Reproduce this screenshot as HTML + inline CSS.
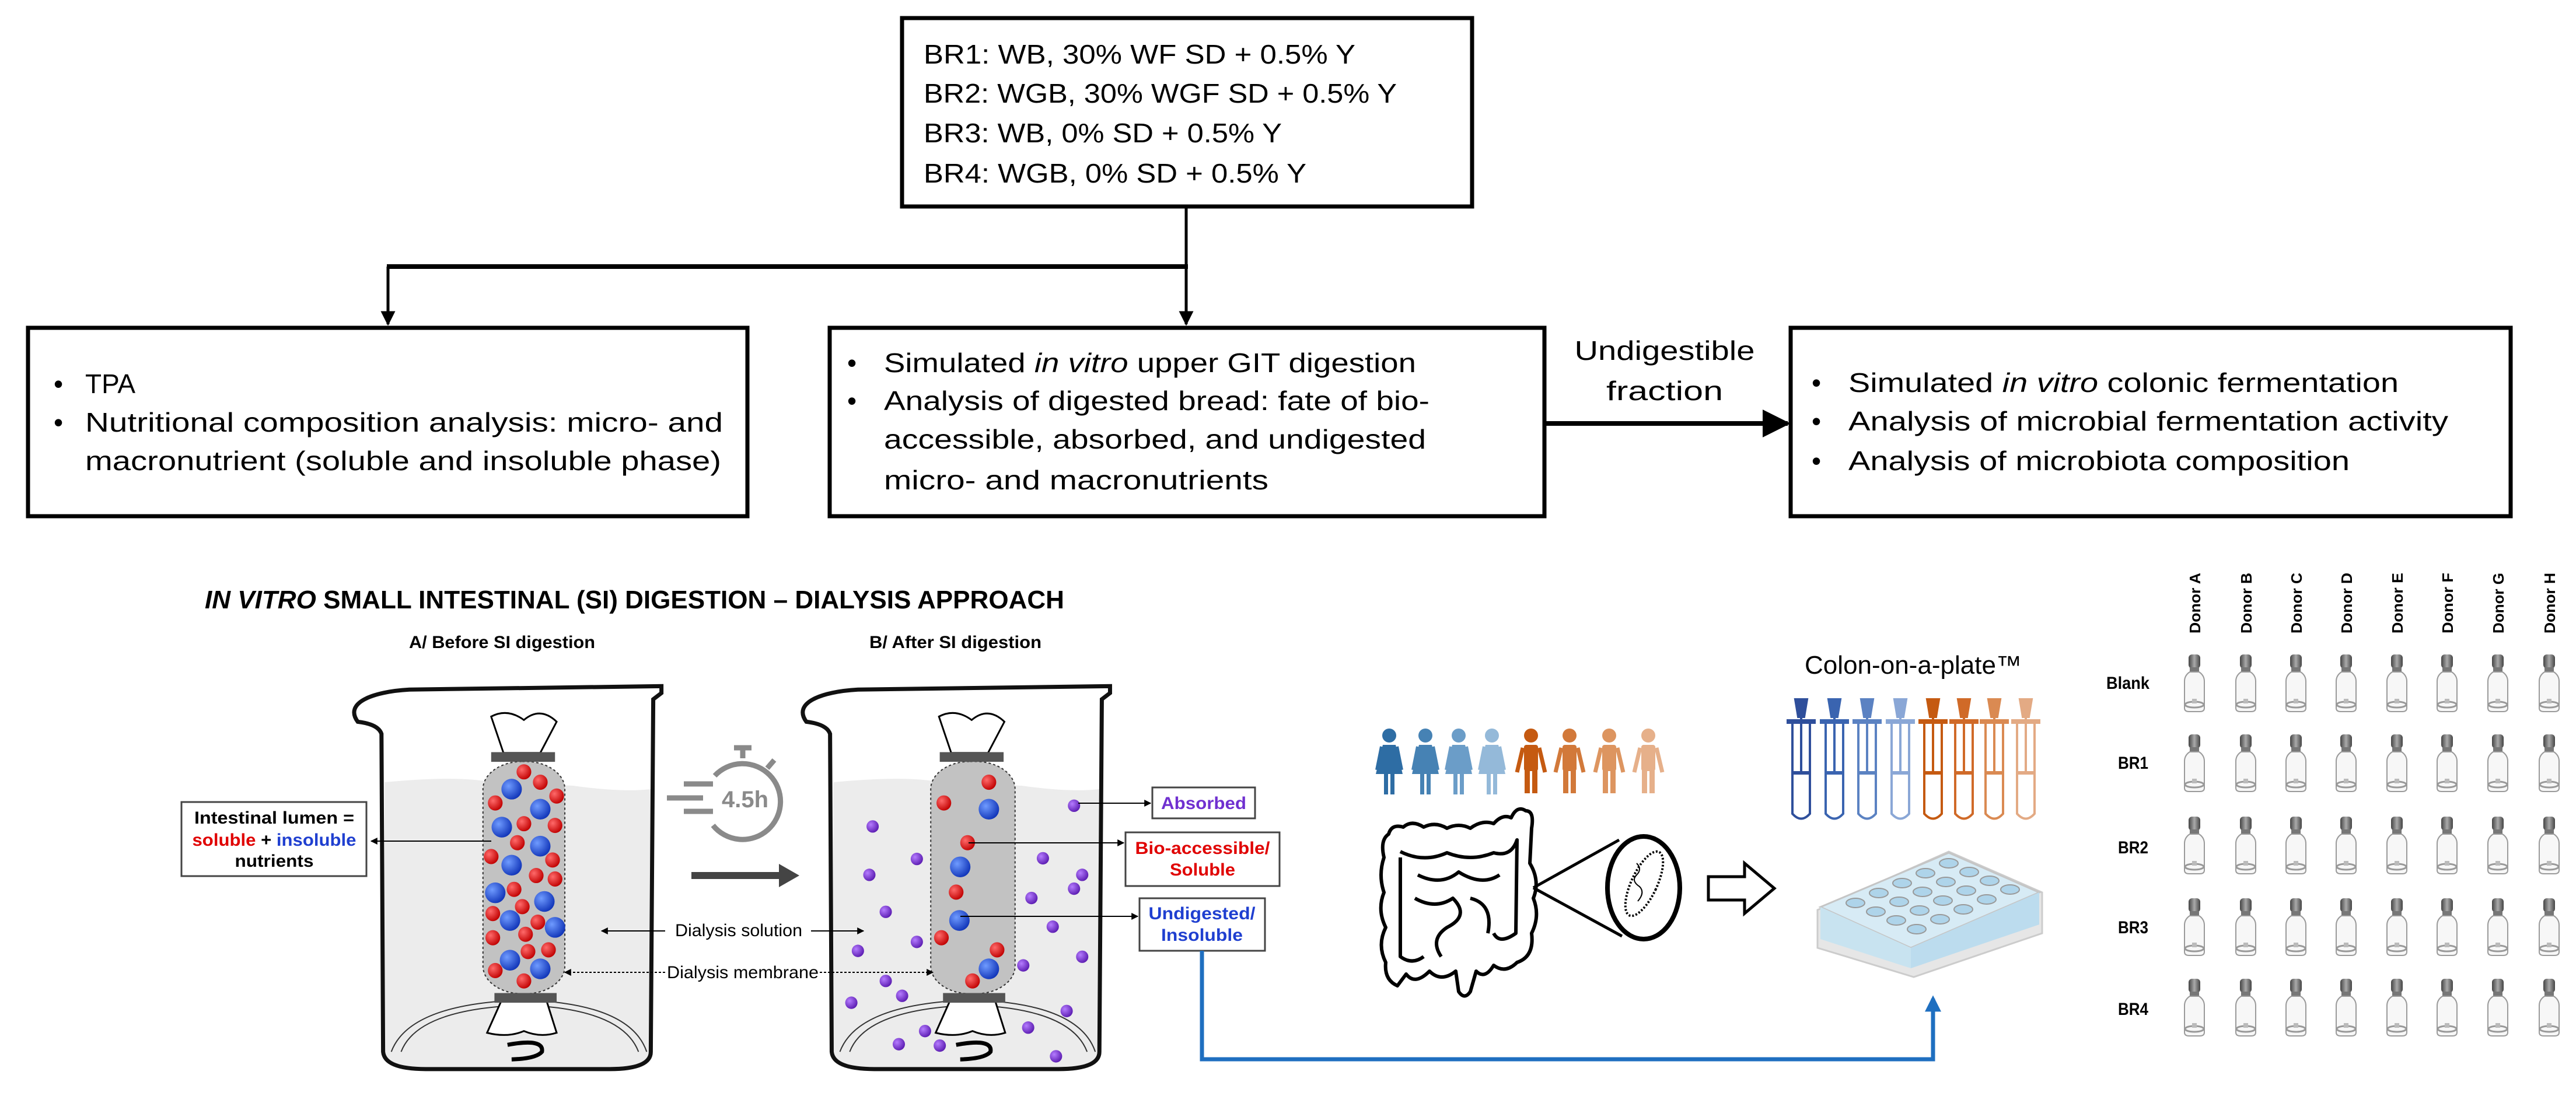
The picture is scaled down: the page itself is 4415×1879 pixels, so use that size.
<!DOCTYPE html>
<html><head><meta charset="utf-8"><style>
html,body{margin:0;padding:0;background:#fff;}
svg{display:block;}
text{font-family:"Liberation Sans",Arial,sans-serif;}
</style></head><body>
<svg width="4415" height="1879" viewBox="0 0 4415 1879" xmlns="http://www.w3.org/2000/svg">
<defs>
<marker id="ah" viewBox="0 0 10 10" refX="9" refY="5" markerWidth="5" markerHeight="5" orient="auto"><path d="M0,0 L10,5 L0,10 Z" fill="#000"/></marker>
<marker id="ahs" viewBox="0 0 10 10" refX="9" refY="5" markerWidth="6" markerHeight="6" orient="auto"><path d="M0,0 L10,5 L0,10 Z" fill="#000"/></marker>
<marker id="ahb" viewBox="0 0 10 10" refX="8" refY="5" markerWidth="4" markerHeight="4" orient="auto"><path d="M0,0 L10,5 L0,10 Z" fill="#1f6fc0"/></marker>
<radialGradient id="gr" cx="0.35" cy="0.35" r="0.7"><stop offset="0" stop-color="#ff6a6a"/><stop offset="1" stop-color="#c00000"/></radialGradient>
<radialGradient id="gb" cx="0.35" cy="0.35" r="0.7"><stop offset="0" stop-color="#6f9bff"/><stop offset="1" stop-color="#1034b8"/></radialGradient>
<radialGradient id="gp" cx="0.35" cy="0.35" r="0.7"><stop offset="0" stop-color="#b57cff"/><stop offset="1" stop-color="#5a1bb0"/></radialGradient>
<linearGradient id="cap" x1="0" x2="1"><stop offset="0" stop-color="#444"/><stop offset="0.5" stop-color="#aaa"/><stop offset="1" stop-color="#444"/></linearGradient>
<g id="vial">
<rect x="11" y="0" width="20" height="24" rx="6" fill="url(#cap)"/>
<rect x="13" y="22" width="16" height="8" fill="#777"/>
<path d="M13,30 Q4,36 4,46 L4,92 Q4,98 12,98 L30,98 Q38,98 38,92 L38,46 Q38,36 29,30 Z" fill="#f7f7f7" stroke="#9a9a9a" stroke-width="2"/>
<ellipse cx="21" cy="86" rx="16" ry="5" fill="none" stroke="#999" stroke-width="3"/>
<rect x="17" y="76" width="8" height="8" fill="#bbb"/>
</g>
</defs>

<!-- TOP FLOW -->
<g fill="none" stroke="#000">
<rect x="1546" y="31" width="977" height="323" stroke-width="7" fill="#fff"/>
<rect x="48" y="562" width="1233" height="323" stroke-width="7" fill="#fff"/>
<rect x="1422" y="562" width="1225" height="323" stroke-width="7" fill="#fff"/>
<rect x="3069" y="562" width="1234" height="323" stroke-width="7" fill="#fff"/>
<line x1="2033" y1="354" x2="2033" y2="459" stroke-width="5"/>
<line x1="663" y1="457" x2="2036" y2="457" stroke-width="8"/>
<line x1="665" y1="457" x2="665" y2="556" stroke-width="5" marker-end="url(#ah)"/>
<line x1="2033" y1="457" x2="2033" y2="556" stroke-width="5" marker-end="url(#ah)"/>
<line x1="2647" y1="726" x2="3064" y2="726" stroke-width="8" marker-end="url(#ahs)"/>
</g>
<g font-size="46" fill="#000">
<text x="1583" y="109" textLength="740" lengthAdjust="spacingAndGlyphs">BR1: WB, 30% WF SD + 0.5% Y</text>
<text x="1583" y="176" textLength="811" lengthAdjust="spacingAndGlyphs">BR2: WGB, 30% WGF SD + 0.5% Y</text>
<text x="1583" y="244" textLength="614" lengthAdjust="spacingAndGlyphs">BR3: WB, 0% SD + 0.5% Y</text>
<text x="1583" y="313" textLength="656" lengthAdjust="spacingAndGlyphs">BR4: WGB, 0% SD + 0.5% Y</text>

<text x="92" y="674">•</text><text x="146" y="674">TPA</text>
<text x="92" y="740">•</text><text x="146" y="740" textLength="1093" lengthAdjust="spacingAndGlyphs">Nutritional composition analysis: micro- and</text>
<text x="146" y="806" textLength="1090" lengthAdjust="spacingAndGlyphs">macronutrient (soluble and insoluble phase)</text>

<text x="1452" y="638">•</text><text x="1515" y="638" textLength="912" lengthAdjust="spacingAndGlyphs">Simulated <tspan font-style="italic">in vitro</tspan> upper GIT digestion</text>
<text x="1452" y="703">•</text><text x="1515" y="703" textLength="935" lengthAdjust="spacingAndGlyphs">Analysis of digested bread: fate of bio-</text>
<text x="1515" y="769" textLength="929" lengthAdjust="spacingAndGlyphs">accessible, absorbed, and undigested</text>
<text x="1515" y="839" textLength="659" lengthAdjust="spacingAndGlyphs">micro- and macronutrients</text>

<text x="3105" y="672">•</text><text x="3168" y="672" textLength="943" lengthAdjust="spacingAndGlyphs">Simulated <tspan font-style="italic">in vitro</tspan> colonic fermentation</text>
<text x="3105" y="738">•</text><text x="3168" y="738" textLength="1028" lengthAdjust="spacingAndGlyphs">Analysis of microbial fermentation activity</text>
<text x="3105" y="806">•</text><text x="3168" y="806" textLength="859" lengthAdjust="spacingAndGlyphs">Analysis of microbiota composition</text>

<text x="2853" y="617" text-anchor="middle" textLength="309" lengthAdjust="spacingAndGlyphs">Undigestible</text>
<text x="2853" y="686" text-anchor="middle" textLength="200" lengthAdjust="spacingAndGlyphs">fraction</text>
</g>

<!-- BOTTOM LEFT TEXT -->
<text x="351" y="1043" font-size="44" font-weight="bold" textLength="1473" lengthAdjust="spacingAndGlyphs"><tspan font-style="italic">IN VITRO</tspan> SMALL INTESTINAL (SI) DIGESTION – DIALYSIS APPROACH</text>
<text x="701" y="1111" font-size="30" font-weight="bold" textLength="319" lengthAdjust="spacingAndGlyphs">A/ Before SI digestion</text>
<text x="1490" y="1111" font-size="30" font-weight="bold" textLength="295" lengthAdjust="spacingAndGlyphs">B/ After SI digestion</text>

<!-- Beakers drawn in zoom coords -->
<g transform="translate(0,950) scale(1.403,0.5925)">
<g id="beaker">
<path d="M470,660 Q560,640 600,660 L700,670 Q760,690 795,680 L795,1440 Q795,1488 745,1488 L520,1488 Q470,1488 468,1440 Z" fill="#ececec"/>
<path d="M437,485 C420,430 455,398 500,392 L808,382 L808,402 L798,420 L795,1440 Q795,1490 745,1490 L520,1490 Q470,1490 468,1440 L466,520 Q462,492 437,485 Z" fill="none" stroke="#111" stroke-width="7" vector-effect="non-scaling-stroke"/>
<path d="M478,1440 Q500,1300 640,1290 Q770,1300 790,1440" fill="none" stroke="#333" stroke-width="2" vector-effect="non-scaling-stroke"/>
<path d="M490,1440 Q510,1315 640,1305 Q760,1315 780,1440" fill="none" stroke="#333" stroke-width="2" vector-effect="non-scaling-stroke"/>
</g>
<use href="#beaker" transform="translate(548,0)"/>

<!-- bag A -->
<rect x="590" y="600" width="100" height="672" rx="48" ry="80" fill="#c2c2c2" stroke="#333" stroke-width="2" stroke-dasharray="4 4" vector-effect="non-scaling-stroke"/>
<path d="M615,575 L600,470 Q620,445 640,480 Q660,440 680,485 L660,575 Z" fill="#fff" stroke="#000" stroke-width="3" vector-effect="non-scaling-stroke"/>
<path d="M612,1295 L595,1385 Q620,1400 640,1380 Q660,1400 680,1385 L668,1295 Z" fill="#fff" stroke="#000" stroke-width="3" vector-effect="non-scaling-stroke"/>
<rect x="600" y="573" width="78" height="28" fill="#555"/>
<rect x="604" y="1270" width="76" height="28" fill="#555"/>
<path d="M620,1420 Q665,1400 662,1440 Q655,1460 625,1462" fill="none" stroke="#000" stroke-width="7" vector-effect="non-scaling-stroke"/>
<!-- bag B -->
<rect x="1137" y="600" width="103" height="672" rx="48" ry="80" fill="#c2c2c2" stroke="#333" stroke-width="2" stroke-dasharray="4 4" vector-effect="non-scaling-stroke"/>
<path d="M1162,575 L1147,470 Q1167,445 1187,480 Q1207,440 1227,485 L1207,575 Z" fill="#fff" stroke="#000" stroke-width="3" vector-effect="non-scaling-stroke"/>
<path d="M1160,1295 L1143,1385 Q1168,1400 1188,1380 Q1208,1400 1228,1385 L1216,1295 Z" fill="#fff" stroke="#000" stroke-width="3" vector-effect="non-scaling-stroke"/>
<rect x="1148" y="573" width="78" height="28" fill="#555"/>
<rect x="1152" y="1270" width="76" height="28" fill="#555"/>
<path d="M1168,1420 Q1213,1400 1210,1440 Q1203,1460 1173,1462" fill="none" stroke="#000" stroke-width="7" vector-effect="non-scaling-stroke"/>

<!-- red balls -->
<g fill="url(#gr)">
<ellipse cx="640" cy="630" rx="9" ry="22"/><ellipse cx="660" cy="660" rx="9" ry="22"/><ellipse cx="680" cy="700" rx="9" ry="22"/><ellipse cx="605" cy="720" rx="9" ry="22"/><ellipse cx="640" cy="780" rx="9" ry="22"/><ellipse cx="678" cy="785" rx="9" ry="22"/><ellipse cx="632" cy="835" rx="9" ry="22"/><ellipse cx="600" cy="875" rx="9" ry="22"/><ellipse cx="675" cy="885" rx="9" ry="22"/><ellipse cx="655" cy="930" rx="9" ry="22"/><ellipse cx="678" cy="940" rx="9" ry="22"/><ellipse cx="628" cy="970" rx="9" ry="22"/><ellipse cx="602" cy="1040" rx="9" ry="22"/><ellipse cx="638" cy="1020" rx="9" ry="22"/><ellipse cx="657" cy="1065" rx="9" ry="22"/><ellipse cx="602" cy="1110" rx="9" ry="22"/><ellipse cx="642" cy="1100" rx="9" ry="22"/><ellipse cx="670" cy="1145" rx="9" ry="22"/><ellipse cx="645" cy="1150" rx="9" ry="22"/><ellipse cx="605" cy="1205" rx="9" ry="22"/><ellipse cx="640" cy="1235" rx="9" ry="22"/>
<ellipse cx="1208" cy="660" rx="9" ry="22"/><ellipse cx="1153" cy="720" rx="9" ry="22"/><ellipse cx="1182" cy="835" rx="9" ry="22"/><ellipse cx="1168" cy="978" rx="9" ry="22"/><ellipse cx="1150" cy="1110" rx="9" ry="22"/><ellipse cx="1218" cy="1145" rx="9" ry="22"/><ellipse cx="1188" cy="1235" rx="9" ry="22"/>
</g>
<g fill="url(#gb)">
<ellipse cx="625" cy="680" rx="12.5" ry="30"/><ellipse cx="660" cy="738" rx="12.5" ry="30"/><ellipse cx="613" cy="790" rx="12.5" ry="30"/><ellipse cx="660" cy="845" rx="12.5" ry="30"/><ellipse cx="625" cy="900" rx="12.5" ry="30"/><ellipse cx="605" cy="980" rx="12.5" ry="30"/><ellipse cx="665" cy="1005" rx="12.5" ry="30"/><ellipse cx="623" cy="1060" rx="12.5" ry="30"/><ellipse cx="678" cy="1080" rx="12.5" ry="30"/><ellipse cx="623" cy="1175" rx="12.5" ry="30"/><ellipse cx="660" cy="1200" rx="12.5" ry="30"/>
<ellipse cx="1208" cy="738" rx="12.5" ry="30"/><ellipse cx="1173" cy="905" rx="12.5" ry="30"/><ellipse cx="1172" cy="1060" rx="12.5" ry="30"/><ellipse cx="1208" cy="1200" rx="12.5" ry="30"/>
</g>
<g fill="url(#gp)">
<ellipse cx="1312" cy="728" rx="7.5" ry="18"/><ellipse cx="1066" cy="788" rx="7.5" ry="18"/><ellipse cx="1120" cy="882" rx="7.5" ry="18"/><ellipse cx="1062" cy="928" rx="7.5" ry="18"/><ellipse cx="1274" cy="880" rx="7.5" ry="18"/><ellipse cx="1322" cy="928" rx="7.5" ry="18"/><ellipse cx="1260" cy="995" rx="7.5" ry="18"/><ellipse cx="1312" cy="968" rx="7.5" ry="18"/><ellipse cx="1082" cy="1035" rx="7.5" ry="18"/><ellipse cx="1286" cy="1078" rx="7.5" ry="18"/><ellipse cx="1120" cy="1122" rx="7.5" ry="18"/><ellipse cx="1048" cy="1148" rx="7.5" ry="18"/><ellipse cx="1322" cy="1165" rx="7.5" ry="18"/><ellipse cx="1250" cy="1190" rx="7.5" ry="18"/><ellipse cx="1082" cy="1235" rx="7.5" ry="18"/><ellipse cx="1102" cy="1278" rx="7.5" ry="18"/><ellipse cx="1040" cy="1298" rx="7.5" ry="18"/><ellipse cx="1303" cy="1322" rx="7.5" ry="18"/><ellipse cx="1256" cy="1370" rx="7.5" ry="18"/><ellipse cx="1130" cy="1380" rx="7.5" ry="18"/><ellipse cx="1098" cy="1418" rx="7.5" ry="18"/><ellipse cx="1148" cy="1422" rx="7.5" ry="18"/><ellipse cx="1290" cy="1453" rx="7.5" ry="18"/>
</g>
</g>

<!-- stopwatch -->
<g stroke="#8a8a8a" fill="none" stroke-width="9">
<path d="M1225,1330 A65,65 0 1 1 1222,1415"/>
<line x1="1273" y1="1300" x2="1273" y2="1282"/><line x1="1258" y1="1282" x2="1288" y2="1282"/>
<line x1="1315" y1="1317" x2="1327" y2="1303"/>
<line x1="1172" y1="1344" x2="1222" y2="1344"/><line x1="1143" y1="1368" x2="1205" y2="1368"/><line x1="1172" y1="1391" x2="1222" y2="1391"/>
</g>
<text x="1277" y="1384" font-size="40" font-weight="bold" fill="#8a8a8a" text-anchor="middle">4.5h</text>
<line x1="1185" y1="1501" x2="1340" y2="1501" stroke="#444" stroke-width="12"/>
<path d="M1335,1481 L1370,1501 L1335,1521 Z" fill="#444"/>

<!-- lumen box -->
<rect x="311" y="1375" width="317" height="127" fill="#fff" stroke="#444" stroke-width="3"/>
<g font-size="30" font-weight="bold" text-anchor="middle">
<text x="470" y="1412" textLength="274" lengthAdjust="spacingAndGlyphs">Intestinal lumen =</text>
<text x="470" y="1450" textLength="281" lengthAdjust="spacingAndGlyphs"><tspan fill="#e00000">soluble</tspan> + <tspan fill="#1f3fd0">insoluble</tspan></text>
<text x="470" y="1486" textLength="135" lengthAdjust="spacingAndGlyphs">nutrients</text>
</g>
<line x1="842" y1="1442" x2="636" y2="1442" stroke="#000" stroke-width="2" marker-end="url(#ahs)"/>

<!-- dialysis labels -->
<text x="1157" y="1605" font-size="30" textLength="218" lengthAdjust="spacingAndGlyphs">Dialysis solution</text>
<line x1="1140" y1="1596" x2="1031" y2="1596" stroke="#000" stroke-width="2" marker-end="url(#ahs)"/>
<line x1="1390" y1="1596" x2="1480" y2="1596" stroke="#000" stroke-width="2" marker-end="url(#ahs)"/>
<text x="1143" y="1677" font-size="30" textLength="260" lengthAdjust="spacingAndGlyphs">Dialysis membrane</text>
<line x1="1140" y1="1667" x2="968" y2="1667" stroke="#000" stroke-width="2" stroke-dasharray="4 3" marker-end="url(#ahs)"/>
<line x1="1405" y1="1667" x2="1599" y2="1667" stroke="#000" stroke-width="2" stroke-dasharray="4 3" marker-end="url(#ahs)"/>

<!-- result boxes -->
<line x1="1848" y1="1377" x2="1972" y2="1377" stroke="#000" stroke-width="2" marker-end="url(#ahs)"/>
<line x1="1660" y1="1445" x2="1926" y2="1445" stroke="#000" stroke-width="2" marker-end="url(#ahs)"/>
<line x1="1646" y1="1571" x2="1950" y2="1571" stroke="#000" stroke-width="2" marker-end="url(#ahs)"/>
<rect x="1975" y="1350" width="176" height="53" fill="#fff" stroke="#444" stroke-width="3"/>
<rect x="1929" y="1427" width="264" height="92" fill="#fff" stroke="#444" stroke-width="3"/>
<rect x="1953" y="1540" width="215" height="90" fill="#fff" stroke="#444" stroke-width="3"/>
<g font-size="30" font-weight="bold" text-anchor="middle">
<text x="2063" y="1387" fill="#7030d0" textLength="146" lengthAdjust="spacingAndGlyphs">Absorbed</text>
<text x="2061" y="1464" fill="#e00000" textLength="231" lengthAdjust="spacingAndGlyphs">Bio-accessible/</text>
<text x="2061" y="1501" fill="#e00000" textLength="112" lengthAdjust="spacingAndGlyphs">Soluble</text>
<text x="2060" y="1576" fill="#1f3fd0" textLength="183" lengthAdjust="spacingAndGlyphs">Undigested/</text>
<text x="2060" y="1613" fill="#1f3fd0" textLength="140" lengthAdjust="spacingAndGlyphs">Insoluble</text>
</g>
<path d="M2060,1630 V1816 H3313 V1712" fill="none" stroke="#1f6fc0" stroke-width="7" marker-end="url(#ahb)"/>

<!-- people -->
<g>
<g fill="#2e6da4"><circle cx="2381" cy="1261" r="12"/><path d="M2370,1277 h22 l12,50 h-46 Z"/><rect x="2372" y="1325" width="7" height="37"/><rect x="2383" y="1325" width="7" height="37"/><path d="M2368,1280 l-8,40 M2394,1280 l8,40" stroke="#2e6da4" stroke-width="6"/></g>
<g fill="#4682b4"><circle cx="2443" cy="1261" r="12"/><path d="M2432,1277 h22 l12,50 h-46 Z"/><rect x="2434" y="1325" width="7" height="37"/><rect x="2445" y="1325" width="7" height="37"/><path d="M2430,1280 l-8,40 M2456,1280 l8,40" stroke="#4682b4" stroke-width="6"/></g>
<g fill="#6b9dc8"><circle cx="2500" cy="1261" r="12"/><path d="M2489,1277 h22 l12,50 h-46 Z"/><rect x="2491" y="1325" width="7" height="37"/><rect x="2502" y="1325" width="7" height="37"/><path d="M2487,1280 l-8,40 M2513,1280 l8,40" stroke="#6b9dc8" stroke-width="6"/></g>
<g fill="#94b9d9"><circle cx="2557" cy="1261" r="12"/><path d="M2546,1277 h22 l12,50 h-46 Z"/><rect x="2548" y="1325" width="7" height="37"/><rect x="2559" y="1325" width="7" height="37"/><path d="M2544,1280 l-8,40 M2570,1280 l8,40" stroke="#94b9d9" stroke-width="6"/></g>
<g fill="#c55a11"><circle cx="2624" cy="1261" r="12"/><rect x="2612" y="1277" width="24" height="45" rx="4"/><rect x="2613" y="1320" width="9" height="40"/><rect x="2626" y="1320" width="9" height="40"/><path d="M2610,1282 l-10,42 M2638,1282 l10,42" stroke="#c55a11" stroke-width="7"/></g>
<g fill="#d2793a"><circle cx="2690" cy="1261" r="12"/><rect x="2678" y="1277" width="24" height="45" rx="4"/><rect x="2679" y="1320" width="9" height="40"/><rect x="2692" y="1320" width="9" height="40"/><path d="M2676,1282 l-10,42 M2704,1282 l10,42" stroke="#d2793a" stroke-width="7"/></g>
<g fill="#dd9560"><circle cx="2758" cy="1261" r="12"/><rect x="2746" y="1277" width="24" height="45" rx="4"/><rect x="2747" y="1320" width="9" height="40"/><rect x="2760" y="1320" width="9" height="40"/><path d="M2744,1282 l-10,42 M2772,1282 l10,42" stroke="#dd9560" stroke-width="7"/></g>
<g fill="#e6b08a"><circle cx="2825" cy="1261" r="12"/><rect x="2813" y="1277" width="24" height="45" rx="4"/><rect x="2814" y="1320" width="9" height="40"/><rect x="2827" y="1320" width="9" height="40"/><path d="M2811,1282 l-10,42 M2839,1282 l10,42" stroke="#e6b08a" stroke-width="7"/></g>
</g>

<!-- intestine -->
<g fill="none" stroke="#000" stroke-width="6" stroke-linejoin="round">
<path d="M2395,1690 Q2372,1680 2375,1650 Q2360,1620 2375,1590 Q2360,1560 2372,1530 Q2362,1500 2372,1470 Q2365,1440 2380,1430 Q2385,1412 2405,1418 Q2420,1405 2440,1418 Q2460,1408 2480,1420 Q2500,1410 2520,1420 Q2540,1405 2560,1412 Q2575,1395 2590,1402 Q2600,1380 2615,1390 Q2630,1390 2625,1420 L2622,1480 Q2640,1510 2628,1540 Q2640,1570 2625,1600 Q2630,1640 2600,1650 Q2580,1670 2560,1655 Q2545,1680 2530,1665 L2520,1700 Q2510,1715 2500,1700 L2495,1665 Q2470,1685 2450,1665 Q2425,1690 2410,1670 Z"/>
<path d="M2400,1460 Q2440,1480 2480,1462 Q2520,1478 2560,1462 Q2590,1470 2600,1440 L2598,1600 Q2570,1620 2560,1600"/>
<path d="M2400,1470 L2400,1640 Q2420,1655 2440,1640"/>
<path d="M2430,1500 Q2470,1520 2500,1495 Q2540,1520 2570,1500"/>
<path d="M2425,1540 Q2460,1560 2490,1540 Q2520,1570 2480,1590 Q2450,1610 2470,1640"/>
<path d="M2520,1540 Q2560,1550 2550,1600"/>
</g>
<path d="M2628,1522 L2775,1440 M2628,1522 L2780,1605" stroke="#000" stroke-width="5" fill="none"/>
<ellipse cx="2817" cy="1522" rx="62" ry="88" fill="#fff" stroke="#000" stroke-width="8"/>
<ellipse cx="2818" cy="1515" rx="22" ry="60" fill="none" stroke="#000" stroke-width="4" stroke-dasharray="3 3" transform="rotate(25 2818 1515)"/>
<path d="M2805,1480 q10,10 0,20 q-10,10 5,20 q10,10 -3,25" stroke="#000" stroke-width="2" fill="none"/>
<path d="M2928,1503 H2990 V1480 L3041,1523 L2990,1566 V1543 H2928 Z" fill="#fff" stroke="#000" stroke-width="5"/>

<!-- Colon-on-a-plate -->
<text x="3093" y="1155" font-size="44" textLength="372" lengthAdjust="spacingAndGlyphs">Colon-on-a-plate™</text>
<g stroke-width="4" fill="none">
<g stroke="#2f4f9b"><path d="M3077,1199 h20 l-5,30 h-10 Z" fill="#2f4f9b"/><line x1="3062" y1="1237" x2="3112" y2="1237" stroke-width="8"/><path d="M3072,1237 V1395 Q3087,1412 3102,1395 V1237"/><line x1="3087" y1="1230" x2="3087" y2="1325"/><line x1="3074" y1="1325" x2="3100" y2="1325" stroke-width="6"/></g>
<g stroke="#3a64b0"><path d="M3134,1199 h20 l-5,30 h-10 Z" fill="#3a64b0"/><line x1="3119" y1="1237" x2="3169" y2="1237" stroke-width="8"/><path d="M3129,1237 V1395 Q3144,1412 3159,1395 V1237"/><line x1="3144" y1="1230" x2="3144" y2="1325"/><line x1="3131" y1="1325" x2="3157" y2="1325" stroke-width="6"/></g>
<g stroke="#5b82c2"><path d="M3190,1199 h20 l-5,30 h-10 Z" fill="#5b82c2"/><line x1="3175" y1="1237" x2="3225" y2="1237" stroke-width="8"/><path d="M3185,1237 V1395 Q3200,1412 3215,1395 V1237"/><line x1="3200" y1="1230" x2="3200" y2="1325"/><line x1="3187" y1="1325" x2="3213" y2="1325" stroke-width="6"/></g>
<g stroke="#8aa7d6"><path d="M3247,1199 h20 l-5,30 h-10 Z" fill="#8aa7d6"/><line x1="3232" y1="1237" x2="3282" y2="1237" stroke-width="8"/><path d="M3242,1237 V1395 Q3257,1412 3272,1395 V1237"/><line x1="3257" y1="1230" x2="3257" y2="1325"/><line x1="3244" y1="1325" x2="3270" y2="1325" stroke-width="6"/></g>
<g stroke="#c55a11"><path d="M3303,1199 h20 l-5,30 h-10 Z" fill="#c55a11"/><line x1="3288" y1="1237" x2="3338" y2="1237" stroke-width="8"/><path d="M3298,1237 V1395 Q3313,1412 3328,1395 V1237"/><line x1="3313" y1="1230" x2="3313" y2="1325"/><line x1="3300" y1="1325" x2="3326" y2="1325" stroke-width="6"/></g>
<g stroke="#d06a28"><path d="M3356,1199 h20 l-5,30 h-10 Z" fill="#d06a28"/><line x1="3341" y1="1237" x2="3391" y2="1237" stroke-width="8"/><path d="M3351,1237 V1395 Q3366,1412 3381,1395 V1237"/><line x1="3366" y1="1230" x2="3366" y2="1325"/><line x1="3353" y1="1325" x2="3379" y2="1325" stroke-width="6"/></g>
<g stroke="#da8a52"><path d="M3408,1199 h20 l-5,30 h-10 Z" fill="#da8a52"/><line x1="3393" y1="1237" x2="3443" y2="1237" stroke-width="8"/><path d="M3403,1237 V1395 Q3418,1412 3433,1395 V1237"/><line x1="3418" y1="1230" x2="3418" y2="1325"/><line x1="3405" y1="1325" x2="3431" y2="1325" stroke-width="6"/></g>
<g stroke="#e3aa84"><path d="M3462,1199 h20 l-5,30 h-10 Z" fill="#e3aa84"/><line x1="3447" y1="1237" x2="3497" y2="1237" stroke-width="8"/><path d="M3457,1237 V1395 Q3472,1412 3487,1395 V1237"/><line x1="3472" y1="1230" x2="3472" y2="1325"/><line x1="3459" y1="1325" x2="3485" y2="1325" stroke-width="6"/></g>
</g>
<!-- plate -->
<path d="M3115,1560 L3340,1460 L3500,1530 L3500,1600 L3280,1675 L3115,1625 Z" fill="#e6e6e6" stroke="#ccc" stroke-width="3"/>
<path d="M3120,1555 L3340,1462 L3495,1530 L3275,1625 Z" fill="#d7ebf5" stroke="#c5c5c5" stroke-width="3"/>
<path d="M3120,1555 L3275,1625 L3275,1660 L3120,1610 Z" fill="#c8e3f0"/>
<path d="M3275,1625 L3495,1530 L3495,1585 L3275,1660 Z" fill="#bcdcee"/>
<g fill="#aed4ea" stroke="#999" stroke-width="2">
<ellipse cx="3340" cy="1480" rx="16" ry="8"/><ellipse cx="3375" cy="1495" rx="16" ry="8"/><ellipse cx="3410" cy="1510" rx="16" ry="8"/><ellipse cx="3445" cy="1525" rx="16" ry="8"/>
<ellipse cx="3300" cy="1497" rx="16" ry="8"/><ellipse cx="3335" cy="1512" rx="16" ry="8"/><ellipse cx="3370" cy="1527" rx="16" ry="8"/><ellipse cx="3405" cy="1542" rx="16" ry="8"/>
<ellipse cx="3260" cy="1514" rx="16" ry="8"/><ellipse cx="3295" cy="1529" rx="16" ry="8"/><ellipse cx="3330" cy="1544" rx="16" ry="8"/><ellipse cx="3365" cy="1559" rx="16" ry="8"/>
<ellipse cx="3220" cy="1531" rx="16" ry="8"/><ellipse cx="3255" cy="1546" rx="16" ry="8"/><ellipse cx="3290" cy="1561" rx="16" ry="8"/><ellipse cx="3325" cy="1576" rx="16" ry="8"/>
<ellipse cx="3180" cy="1548" rx="16" ry="8"/><ellipse cx="3215" cy="1563" rx="16" ry="8"/><ellipse cx="3250" cy="1578" rx="16" ry="8"/><ellipse cx="3285" cy="1593" rx="16" ry="8"/>
</g>

<!-- donors -->
<g font-size="26" font-weight="bold">
<text transform="translate(3771,1086) rotate(-90)" textLength="104" lengthAdjust="spacingAndGlyphs">Donor A</text>
<text transform="translate(3859,1086) rotate(-90)" textLength="104" lengthAdjust="spacingAndGlyphs">Donor B</text>
<text transform="translate(3945,1086) rotate(-90)" textLength="104" lengthAdjust="spacingAndGlyphs">Donor C</text>
<text transform="translate(4031,1086) rotate(-90)" textLength="104" lengthAdjust="spacingAndGlyphs">Donor D</text>
<text transform="translate(4118,1086) rotate(-90)" textLength="104" lengthAdjust="spacingAndGlyphs">Donor E</text>
<text transform="translate(4204,1086) rotate(-90)" textLength="104" lengthAdjust="spacingAndGlyphs">Donor F</text>
<text transform="translate(4291,1086) rotate(-90)" textLength="104" lengthAdjust="spacingAndGlyphs">Donor G</text>
<text transform="translate(4379,1086) rotate(-90)" textLength="104" lengthAdjust="spacingAndGlyphs">Donor H</text>
</g>
<g font-size="30" font-weight="bold" text-anchor="end">
<text x="3684" y="1181" textLength="74" lengthAdjust="spacingAndGlyphs">Blank</text>
<text x="3682" y="1318" textLength="52" lengthAdjust="spacingAndGlyphs">BR1</text>
<text x="3682" y="1463" textLength="52" lengthAdjust="spacingAndGlyphs">BR2</text>
<text x="3682" y="1600" textLength="52" lengthAdjust="spacingAndGlyphs">BR3</text>
<text x="3682" y="1740" textLength="52" lengthAdjust="spacingAndGlyphs">BR4</text>
</g>
<g id="vrow">
<use href="#vial" x="3740" y="1122"/><use href="#vial" x="3828" y="1122"/><use href="#vial" x="3914" y="1122"/><use href="#vial" x="4000" y="1122"/><use href="#vial" x="4087" y="1122"/><use href="#vial" x="4173" y="1122"/><use href="#vial" x="4260" y="1122"/><use href="#vial" x="4348" y="1122"/>
</g>
<use href="#vrow" y="137"/>
<use href="#vrow" y="278"/>
<use href="#vrow" y="418"/>
<use href="#vrow" y="556"/>
</svg>
</body></html>
